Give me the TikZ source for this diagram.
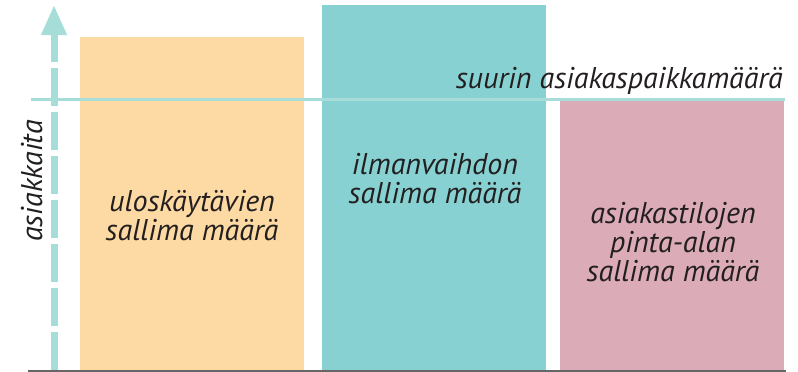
\documentclass[tikz,border=0pt]{standalone}
\usepackage{fontspec}
\setmainfont{PT Sans}
\usepackage{tikz}
\usetikzlibrary{arrows.meta}
\definecolor{oranssi}{HTML}{FDD9A3}
\definecolor{turkoosi}{HTML}{87D1D3}
\definecolor{roosa}{HTML}{DBACB7}
\definecolor{vaalea}{HTML}{A6DDD8}
\definecolor{teksti}{HTML}{231F20}

\begin{document}
\begin{tikzpicture}[x=1pt, y=-1pt,
        nimi/.style={font=\fontsize{30}{29}\selectfont\itshape, text=teksti, align=center, inner sep=0pt}]
            \useasboundingbox (0, 0) rectangle (798, 372);
            \fill[oranssi](80, 37) rectangle (304, 370);
            \fill[turkoosi](322, 5) rectangle (546, 370);
            \fill[roosa](560, 100) rectangle (784, 370);
            \draw[vaalea, line width=3pt](31, 99)--(785, 99);
            \draw[vaalea, line width=7pt, dash pattern=on 38pt off 6pt, -{Triangle[length=30pt, width=24pt]}](54, 370)--(54, 5);
            \draw[black!60, line width=2pt](28, 371)--(786, 371);
            \node[nimi, anchor=base east] (suurin) at (783, 88) {suurin asiakaspaikkamäärä};
            \node[nimi, rotate=90, anchor=base] (akseli) at (42, 181) {asiakkaita};
            \node[nimi] (ulos) at (192, 216) {uloskäytävien\\sallima määrä};
            \node[nimi] (ilma) at (435, 179) {ilmanvaihdon\\sallima määrä};
            \node[nimi] (pinta) at (673, 242) {asiakastilojen\\pinta-alan\\sallima määrä};
        \end{tikzpicture}
\end{document}
